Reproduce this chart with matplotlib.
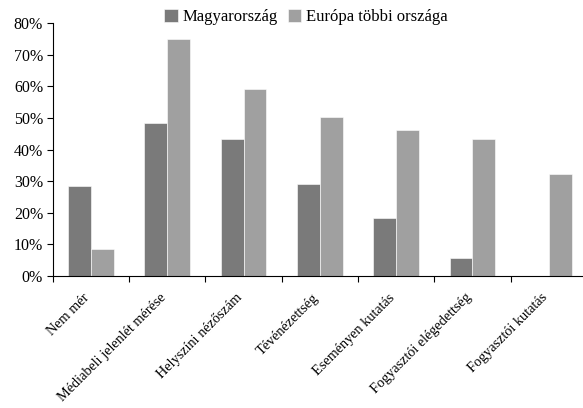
import numpy as np
import matplotlib
matplotlib.use("Agg")
import matplotlib.pyplot as plt
import matplotlib.transforms as mtransforms
from matplotlib.ticker import PercentFormatter

# adatok
kategoriak = ["Nem mér", "Médiabeli jelenlét mérése", "Helyszíni nézőszám",
              "Tévénézettség", "Eseményen kutatás", "Fogyasztói elégedettség",
              "Fogyasztói kutatás"]
magyarorszag = [28.3, 48.5, 43.3, 29.1, 18.3, 5.6, 0]
europa = [8.5, 75.1, 59.2, 50.3, 46.3, 43.3, 32.2]

plt.rcParams['font.family'] = ['Liberation Serif', 'DejaVu Serif']

fig = plt.figure(figsize=(5.83, 4.08), dpi=100)
ax = fig.add_axes([0.0906, 0.324, 0.916, 0.619])

x = np.arange(len(kategoriak))
w = 0.3
ax.bar(x - w / 2, magyarorszag, w, color='#7a7a7a', edgecolor='white', linewidth=0.4,
       label='Magyarország')
ax.bar(x + w / 2, europa, w, color='#a0a0a0', edgecolor='white', linewidth=0.4,
       label='Európa többi országa')

ax.set_xlim(-0.5, len(kategoriak) - 0.5)
ax.set_ylim(0, 80)
ax.set_yticks(range(0, 81, 10))
ax.yaxis.set_major_formatter(PercentFormatter(decimals=0))
ax.tick_params(axis='y', labelsize=11.5, length=4, width=0.8, pad=3)

ax.set_xticks(x)
ax.set_xticklabels(kategoriak, rotation=45, ha='right', rotation_mode='anchor', fontsize=10.3)
ax.tick_params(axis='x', which='major', length=0, pad=11)
# címkék kicsit balra tolva
eltolas = mtransforms.ScaledTranslation(-8 / 100, 0, fig.dpi_scale_trans)
for lbl in ax.get_xticklabels():
    lbl.set_transform(lbl.get_transform() + eltolas)
ax.set_xticks(np.arange(-0.5, len(kategoriak), 1), minor=True)
ax.tick_params(axis='x', which='minor', length=4, width=0.8)

for s in ['top', 'right']:
    ax.spines[s].set_visible(False)

fig.legend(loc='upper center', bbox_to_anchor=(0.525, 1.015), ncol=2, frameon=False,
           fontsize=12, handlelength=0.8, handleheight=0.8, handletextpad=0.3,
           columnspacing=0.6)

fig.savefig("out.png", dpi=100)
